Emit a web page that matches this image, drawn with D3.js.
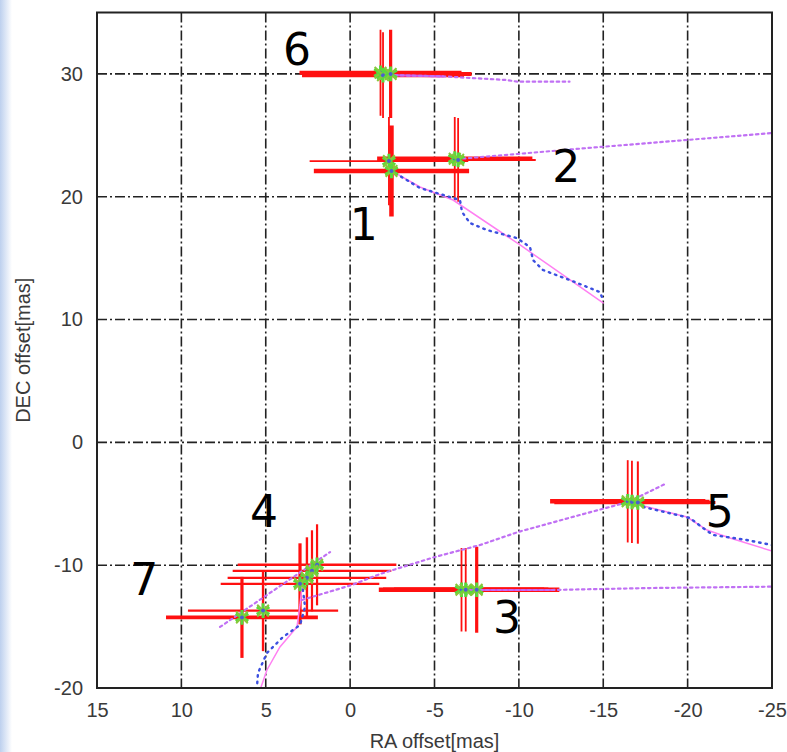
<!DOCTYPE html>
<html>
<head>
<meta charset="utf-8">
<script src="https://cdn.jsdelivr.net/npm/d3@7"></script>
<style>
  html, body { margin: 0; padding: 0; background: #fff; }
  svg { display: block; }
  .tick text { font-family: "Liberation Sans", Arial, sans-serif; font-size: 20px; fill: #3a3a3a; }
  .axis-title { font-family: "Liberation Sans", Arial, sans-serif; font-size: 20px; fill: #3a3a3a; }
  .spot-label { font-family: "DejaVu Sans", Verdana, sans-serif; font-size: 44px; fill: #000; }
</style>
</head>
<body>
<svg id="chart" width="787" height="752"></svg>
<script>
// axis ticks and grid
var tickRA = [15, 10, 5, 0, -5, -10, -15, -20, -25];
var tickDEC = [-20, -10, 0, 10, 20, 30];
var gridRA = [10, 5, 0, -5, -10, -15, -20];
var gridDEC = [-10, 0, 10, 20, 30];

// maser spot labels
var spotIds = ["1", "2", "3", "4", "5", "6", "7"];
var labelRA = [-0.8, -12.8, -9.3, 5.1, -21.9, 3.15, 12.2];
var labelDEC = [16.5, 21.2, -15.5, -6.9, -6.9, 30.7, -12.4];

// measured positions (one entry per epoch)
var epochSpot = ["6", "6", "6", "1", "1", "2", "2", "3", "3", "3", "5", "5", "5", "4", "4", "4", "4", "7", "7"];
var epochRA = [-1.8, -1.95, -2.4, -2.3, -2.45, -6.2, -6.4, -6.6, -6.85, -7.5, -16.45, -16.7, -17.05, 1.96, 2.26, 2.56, 2.97, 6.41, 5.16];
var epochDEC = [30.1, 29.9, 30.0, 22.9, 22.1, 23.1, 23.0, -12.0, -12.0, -12.0, -4.8, -4.85, -4.9, -9.97, -10.46, -11.03, -11.52, -14.25, -13.7];
var errRA = [4.8, 4.8, 4.8, 4.7, 4.6, 4.6, 4.6, 4.9, 4.9, 4.9, 4.6, 4.6, 4.6, 4.7, 4.7, 4.7, 4.7, 4.5, 4.45];
var errDEC = [3.5, 3.5, 3.6, 3.6, 3.7, 3.4, 3.4, 3.4, 3.4, 3.5, 3.35, 3.35, 3.35, 3.3, 3.3, 3.3, 3.3, 3.3, 3.3];

// model tracks [RA, DEC]
var track6 = [[-2.3, 29.9], [-5.5, 29.8], [-9.3, 29.5], [-9.9, 29.37], [-13.0, 29.37]];
var track1Model = [[-2.36, 22.18], [-4.14, 20.79], [-6.1, 19.73], [-10.07, 16.07], [-14.99, 11.35]];
var track1Fit = [[-2.36, 22.18], [-4.14, 20.71], [-6.51, 19.73], [-6.63, 18.76], [-7.1, 17.86], [-8.11, 17.29],
  [-9.89, 16.63], [-10.66, 15.9], [-10.84, 14.84], [-11.43, 14.03], [-13.03, 13.21], [-14.81, 12.23], [-14.99, 11.58]];
var track2 = [[-6.33, 23.07], [-14.81, 24.05], [-19.96, 24.62], [-25.0, 25.19]];
var track3 = [[-6.63, -12.02], [-11.96, -12.02], [-17.77, -11.86], [-25.0, -11.75]];
var track5 = [[2.85, -12.83], [-0.11, -11.61], [-1.77, -10.72], [-5.03, -9.33], [-7.7, -8.36], [-9.95, -7.3],
  [-13.62, -5.91], [-16.47, -4.86], [-18.66, -3.39]];
var track5Model = [[-17.18, -5.1], [-19.96, -6.08], [-21.15, -7.14], [-22.51, -7.79], [-25.0, -8.85]];
var track5Fit = [[-17.36, -5.26], [-20.14, -6.16], [-20.91, -6.97], [-21.5, -7.54], [-23.5, -7.95], [-25.0, -8.36]];
var track47 = [[7.71, -15.03], [1.19, -8.93]];
var track4Model = [[2.85, -11.61], [2.97, -13.24], [3.15, -15.03], [4.16, -16.66], [4.93, -18.53], [5.3, -20.0]];
var track4Fit = [[2.85, -11.45], [2.67, -13.4], [2.97, -14.87], [3.98, -15.85], [4.93, -17.15], [5.46, -18.78], [5.52, -19.92]];

// error bar line widths per epoch (style only)
var barWidthH = [4, 4, 4, 1.8, 4.5, 4.5, 2, 4.5, 4.5, 4.5, 4.5, 4.5, 3, 2.4, 2.4, 2.4, 2.4, 3.8, 2.4];
var barWidthV = [1.8, 1.8, 3.2, 1.8, 4.5, 1.8, 1.8, 1.8, 1.8, 3.2, 1.8, 1.8, 2, 2.2, 2.2, 2.4, 3.2, 3.2, 2.4];

var width = 787, height = 752;
var margin = {top: 12.5, right: 15, bottom: 64, left: 97};

var svg = d3.select("#chart");

// faint blue slide edge on the left
var defs = svg.append("defs");
var grad = defs.append("linearGradient").attr("id", "edge").attr("x1", "0").attr("x2", "1");
grad.append("stop").attr("offset", "0").attr("stop-color", "#bdd0ee");
grad.append("stop").attr("offset", "1").attr("stop-color", "#ffffff");
svg.append("rect").attr("x", 0).attr("y", 0).attr("width", 12).attr("height", height).attr("fill", "url(#edge)");

var x = d3.scaleLinear().domain([15, -25]).range([margin.left, width - margin.right]);
var y = d3.scaleLinear().domain([-20, 35]).range([height - margin.bottom, margin.top]);

defs.append("clipPath").attr("id", "plot-clip")
  .append("rect")
  .attr("x", x(15)).attr("y", y(35))
  .attr("width", x(-25) - x(15)).attr("height", y(-20) - y(35));

// grid
var grid = svg.append("g").attr("class", "grid");
grid.selectAll("line.v").data(gridRA).enter().append("line")
  .attr("class", "v")
  .attr("x1", function(d) { return x(d); }).attr("x2", function(d) { return x(d); })
  .attr("y1", y(35)).attr("y2", y(-20))
  .attr("stroke", "#222").attr("stroke-width", 1.6)
  .attr("stroke-dasharray", "10,3,2,3");
grid.selectAll("line.h").data(gridDEC).enter().append("line")
  .attr("class", "h")
  .attr("x1", x(15)).attr("x2", x(-25))
  .attr("y1", function(d) { return y(d); }).attr("y2", function(d) { return y(d); })
  .attr("stroke", "#222").attr("stroke-width", 1.6)
  .attr("stroke-dasharray", "10,3,2,3");

// axes (labels only)
var fmt = function(d) { return String(d); };
var xAxis = svg.append("g")
  .attr("transform", "translate(0," + y(-20) + ")")
  .call(d3.axisBottom(x).tickValues(tickRA).tickSize(0).tickPadding(15).tickFormat(fmt));
xAxis.select(".domain").remove();

var yAxis = svg.append("g")
  .attr("transform", "translate(" + x(15) + ",0)")
  .call(d3.axisLeft(y).tickValues(tickDEC).tickSize(0).tickPadding(14).tickFormat(fmt));
yAxis.select(".domain").remove();

svg.append("text").attr("class", "axis-title")
  .attr("x", (x(15) + x(-25)) / 2).attr("y", 748)
  .attr("text-anchor", "middle")
  .text("RA offset[mas]");

svg.append("text").attr("class", "axis-title")
  .attr("transform", "translate(30," + ((y(35) + y(-20)) / 2) + ") rotate(-90)")
  .attr("text-anchor", "middle")
  .text("DEC offset[mas]");

var plot = svg.append("g").attr("clip-path", "url(#plot-clip)");

// error bars
var epochs = epochRA.map(function(r, i) {
  return {spot: epochSpot[i], ra: r, dec: epochDEC[i], era: errRA[i], edec: errDEC[i], i: i};
});

plot.selectAll("line.ebar-h").data(epochs).enter().append("line")
  .attr("class", "ebar-h")
  .attr("x1", function(d) { return x(d.ra + d.era); })
  .attr("x2", function(d) { return x(d.ra - d.era); })
  .attr("y1", function(d) { return y(d.dec); })
  .attr("y2", function(d) { return y(d.dec); })
  .attr("stroke", "#ff1010")
  .attr("stroke-width", function(d) { return barWidthH[d.i]; });

plot.selectAll("line.ebar-v").data(epochs).enter().append("line")
  .attr("class", "ebar-v")
  .attr("x1", function(d) { return x(d.ra); })
  .attr("x2", function(d) { return x(d.ra); })
  .attr("y1", function(d) { return y(d.dec + d.edec); })
  .attr("y2", function(d) { return y(d.dec - d.edec); })
  .attr("stroke", "#ff1010")
  .attr("stroke-width", function(d) { return barWidthV[d.i]; });

// tracks
var line = d3.line().x(function(d) { return x(d[0]); }).y(function(d) { return y(d[1]); });

function drawTrack(pts, color, w, dash) {
  plot.append("path")
    .datum(pts)
    .attr("d", line)
    .attr("fill", "none")
    .attr("stroke", color)
    .attr("stroke-width", w)
    .attr("stroke-dasharray", dash || null)
    .attr("stroke-linecap", "round");
}

// solid magenta model curves
drawTrack(track1Model, "#ff80f2", 1.5);
drawTrack(track5Model, "#ff80f2", 1.5);
drawTrack(track4Model, "#ff80f2", 1.5);
drawTrack(track3.slice(0, 2), "#d64de8", 2.2);
drawTrack(track6.slice(0, 2), "#d64de8", 2.2);
// blue dotted fits
drawTrack(track1Fit, "#3b4fe0", 2.4, "1.5,5");
drawTrack(track5Fit, "#3b4fe0", 2.4, "1.5,5");
drawTrack(track4Fit, "#3b4fe0", 2.4, "1.5,5");
// violet dotted tracks
[track6, track2, track3, track5, track47].forEach(function(t) {
  drawTrack(t, "#c070f4", 2.2, "2.5,3.5");
});

// markers
var star = d3.symbol().type(d3.symbolAsterisk).size(150);
var marks = plot.selectAll("g.mark").data(epochs).enter().append("g")
  .attr("class", "mark")
  .attr("transform", function(d) { return "translate(" + x(d.ra) + "," + y(d.dec) + ")"; });
marks.append("path").attr("d", star)
  .attr("fill", "none").attr("stroke", "#5ad83c").attr("stroke-width", 3);
marks.append("path").attr("d", d3.symbol().type(d3.symbolTimes).size(90))
  .attr("fill", "none").attr("stroke", "#88c83a").attr("stroke-width", 2);
marks.append("circle").attr("r", 2).attr("fill", "#4a5fd0");

// frame
svg.append("rect")
  .attr("x", x(15)).attr("y", y(35))
  .attr("width", x(-25) - x(15)).attr("height", y(-20) - y(35))
  .attr("fill", "none").attr("stroke", "#222").attr("stroke-width", 2);

// spot numbers
svg.selectAll("text.spot-label").data(spotIds).enter().append("text")
  .attr("class", "spot-label")
  .attr("x", function(d, i) { return x(labelRA[i]); })
  .attr("y", function(d, i) { return y(labelDEC[i]); })
  .attr("text-anchor", "middle")
  .text(function(d) { return d; });
</script>
</body>
</html>
